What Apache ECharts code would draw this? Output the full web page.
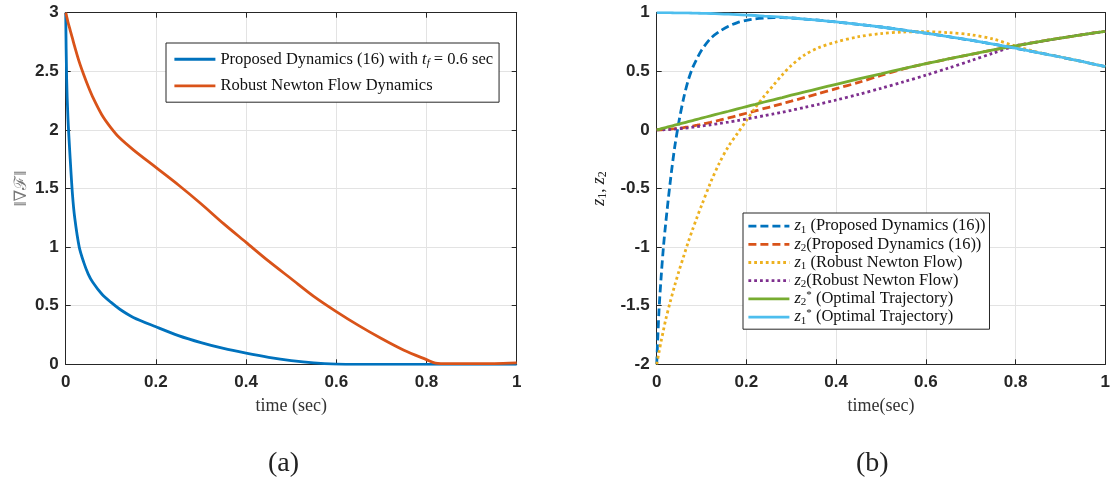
<!DOCTYPE html>
<html>
<head>
<meta charset="utf-8">
<script src="https://cdn.jsdelivr.net/npm/echarts@6/dist/echarts.min.js"></script>
<style>html,body{margin:0;padding:0;background:#fff;}#c{width:1113px;height:479px;}</style>
</head>
<body>
<div id="c"></div>
<script>
// ---- Data (a) ----
const tA = [0,0.002,0.005,0.01,0.015,0.02,0.03,0.04,0.05,0.06,0.08,0.1,0.12,0.15,0.2,0.25,0.3,0.35,0.4,0.45,0.5,0.55,0.6,0.65,0.7,0.75,0.8,0.82,0.85,0.9,0.95,1.0];
const gradProposed = [3.0,2.45,2.1,1.75,1.45,1.25,1.0,0.87,0.77,0.7,0.6,0.53,0.47,0.4,0.32,0.245,0.185,0.135,0.095,0.06,0.032,0.012,0.002,0,0,0,0,0,0,0,0,0];
const gradRobust = [3.0,2.97,2.92,2.85,2.78,2.71,2.58,2.47,2.37,2.28,2.13,2.02,1.93,1.83,1.68,1.53,1.37,1.2,1.04,0.88,0.73,0.58,0.45,0.33,0.22,0.12,0.04,0.01,0.005,0.005,0.006,0.012];
// ---- Data (b) ----
const tB = [0,0.005,0.01,0.015,0.02,0.03,0.04,0.05,0.06,0.07,0.08,0.09,0.1,0.12,0.14,0.16,0.18,0.2,0.22,0.24,0.26,0.28,0.3,0.33,0.36,0.4,0.45,0.5,0.55,0.6,0.65,0.7,0.75,0.8,0.85,0.9,0.95,1.0];
const z1Proposed = [-2,-1.55,-1.25,-1.0,-0.8,-0.45,-0.15,0.08,0.27,0.42,0.53,0.61,0.68,0.78,0.84,0.885,0.915,0.935,0.948,0.955,0.958,0.958,0.955,0.946,0.936,0.921,0.9,0.878,0.852,0.825,0.796,0.765,0.732,0.697,0.66,0.622,0.582,0.54];
const z2Proposed = [0,0,0.001,0.002,0.003,0.006,0.01,0.015,0.02,0.026,0.033,0.04,0.048,0.065,0.083,0.102,0.122,0.142,0.162,0.183,0.203,0.224,0.245,0.277,0.309,0.352,0.405,0.465,0.52,0.565,0.605,0.644,0.682,0.717,0.751,0.783,0.813,0.841];
const z1Robust = [-2,-1.9,-1.8,-1.71,-1.62,-1.47,-1.33,-1.2,-1.08,-0.96,-0.85,-0.745,-0.645,-0.45,-0.28,-0.14,-0.03,0.08,0.19,0.29,0.38,0.47,0.55,0.64,0.7,0.75,0.795,0.822,0.835,0.838,0.83,0.812,0.775,0.715,0.662,0.622,0.582,0.54];
const z2Robust = [0,0,0,0.001,0.002,0.004,0.007,0.01,0.014,0.018,0.023,0.028,0.033,0.044,0.055,0.067,0.08,0.093,0.107,0.121,0.136,0.151,0.167,0.192,0.218,0.255,0.303,0.355,0.41,0.467,0.527,0.59,0.655,0.717,0.751,0.783,0.813,0.841];
const z2Optimal = [0,0.005,0.01,0.015,0.02,0.03,0.04,0.05,0.06,0.07,0.08,0.09,0.1,0.12,0.14,0.159,0.179,0.199,0.218,0.238,0.257,0.276,0.296,0.324,0.352,0.389,0.435,0.479,0.523,0.565,0.605,0.644,0.682,0.717,0.751,0.783,0.813,0.841];
const z1Optimal = [1,1,1,1,1,1,0.999,0.999,0.998,0.998,0.997,0.996,0.995,0.993,0.99,0.987,0.984,0.98,0.976,0.971,0.966,0.961,0.955,0.946,0.936,0.921,0.9,0.878,0.852,0.825,0.796,0.765,0.732,0.697,0.66,0.622,0.582,0.54];

const pair = (t, v) => t.map((x, i) => [x, v[i]]);

const AX = '#262626';
const LW = 2.8;
const tickFont = {fontFamily: 'Liberation Sans, Arial, sans-serif', fontWeight: 'bold', fontSize: 17, color: AX};
const serif = 'Liberation Serif, DejaVu Serif, serif';

function xAxes(gi, name) {
  return [
    {type: 'value', gridIndex: gi, min: 0, max: 1, interval: 0.2, position: 'bottom',
     axisLine: {show: true, onZero: false, lineStyle: {color: AX, width: 1}},
     axisTick: {show: true, inside: true, length: 5, lineStyle: {color: AX}},
     axisLabel: Object.assign({margin: 10, formatter: v => String(+v.toFixed(1))}, tickFont),
     splitLine: {show: true, lineStyle: {color: '#e3e3e3', width: 1}},
     name: name, nameLocation: 'middle', nameGap: 33, nameMoveOverlap: false,
     nameTextStyle: {fontFamily: serif, fontSize: 18, color: '#333'}},
    {type: 'value', gridIndex: gi, min: 0, max: 1, interval: 0.2, position: 'top',
     axisLine: {show: true, onZero: false, lineStyle: {color: AX}},
     axisTick: {show: true, inside: true, length: 5, lineStyle: {color: AX}},
     axisLabel: {show: false}, splitLine: {show: false}}
  ];
}
function yAxes(gi, min, max, name, nameGap, nameStyle) {
  return [
    {type: 'value', gridIndex: gi, min: min, max: max, interval: 0.5, position: 'left',
     axisLine: {show: true, onZero: false, lineStyle: {color: AX}},
     axisTick: {show: true, inside: true, length: 5, lineStyle: {color: AX}},
     axisLabel: Object.assign({margin: 7}, tickFont),
     splitLine: {show: true, lineStyle: {color: '#e3e3e3', width: 1}},
     name: name, nameLocation: 'middle', nameGap: nameGap, nameRotate: 90, nameMoveOverlap: false,
     nameTextStyle: nameStyle},
    {type: 'value', gridIndex: gi, min: min, max: max, interval: 0.5, position: 'right',
     axisLine: {show: true, onZero: false, lineStyle: {color: AX}},
     axisTick: {show: true, inside: true, length: 5, lineStyle: {color: AX}},
     axisLabel: {show: false}, splitLine: {show: false}}
  ];
}

function line(name, xi, yi, data, color, type) {
  return {name: name, type: 'line', xAxisIndex: xi, yAxisIndex: yi, data: data,
    showSymbol: false, symbol: 'none', smooth: 0.3, animation: false,
    lineStyle: {color: color, width: LW, type: type || 'solid', cap: 'butt'},
    itemStyle: {color: color}};
}

const FS = 16.5;
const richBase = {
  it: {fontFamily: serif, fontStyle: 'italic', fontSize: FS, color: '#111'},
  sub: {fontFamily: serif, fontStyle: 'italic', fontSize: 11, color: '#111', verticalAlign: 'bottom', padding: [6, 0, 0, 0]},
  subn: {fontFamily: serif, fontSize: 11, color: '#111', verticalAlign: 'bottom', padding: [6, 0, 0, 0]},
  sup: {fontFamily: serif, fontSize: 11, color: '#111', verticalAlign: 'top', padding: [0, 0, 6, 0]}
};

const N1 = 'Proposed Dynamics (16) with tf = 0.6 sec';
const N2 = 'Robust Newton Flow Dynamics';
const M = ['z1 (Proposed Dynamics (16))', 'z2(Proposed Dynamics (16))', 'z1 (Robust Newton Flow)', 'z2(Robust Newton Flow)', 'z2* (Optimal Trajectory)', 'z1* (Optimal Trajectory)'];
const fmtMap = {};
fmtMap[N1] = 'Proposed Dynamics (16) with {it|t}{sub|f} = 0.6 sec';
fmtMap[N2] = 'Robust Newton Flow Dynamics';
fmtMap[M[0]] = '{it|z}{subn|1} (Proposed Dynamics (16))';
fmtMap[M[1]] = '{it|z}{subn|2}(Proposed Dynamics (16))';
fmtMap[M[2]] = '{it|z}{subn|1} (Robust Newton Flow)';
fmtMap[M[3]] = '{it|z}{subn|2}(Robust Newton Flow)';
fmtMap[M[4]] = '{it|z}{subn|2}{sup|*} (Optimal Trajectory)';
fmtMap[M[5]] = '{it|z}{subn|1}{sup|*} (Optimal Trajectory)';

const hideSym = {color: 'rgba(0,0,0,0)', borderWidth: 0, opacity: 0};
const legLine = {width: LW, type: 'inherit', cap: 'butt'};

const chart = echarts.init(document.getElementById('c'), null, {renderer: 'canvas'});
chart.setOption({
  animation: false,
  backgroundColor: '#fff',
  grid: [
    {left: 65.7, top: 12.7, width: 451, height: 351.6, show: false},
    {left: 656.7, top: 12.7, width: 451, height: 351.6, show: false}
  ],
  xAxis: [].concat(xAxes(0, 'time (sec)'), xAxes(1, 'time(sec)')),
  yAxis: [].concat(
    yAxes(0, 0, 3, '‖∇ℱ‖', 36, {fontFamily: serif, fontSize: 17, color: '#777'}),
    yAxes(1, -2, 1, '{it|z}{subn|1}, {it|z}{subn|2}', 48, {fontFamily: serif, fontSize: 17, color: '#222', rich: {
      it: {fontFamily: serif, fontStyle: 'italic', fontSize: 18, color: '#222'},
      subn: {fontFamily: serif, fontSize: 12, color: '#222', verticalAlign: 'bottom', padding: [6, 0, 0, 0]}}})
  ),
  legend: [
    {data: [N1, N2], orient: 'vertical', left: 166, top: 43,
     padding: [7, 6, 7, 7], itemGap: 8.2, itemWidth: 41, itemHeight: 14,
     borderColor: AX, borderWidth: 1, backgroundColor: '#fff', selectedMode: false,
     itemStyle: hideSym, lineStyle: legLine,
     textStyle: {fontFamily: serif, fontSize: FS, color: '#111', lineHeight: 18.5, rich: richBase},
     formatter: n => fmtMap[n]},
    {data: M, orient: 'vertical', left: 743, top: 213,
     padding: [4, 4, 3, 4], itemGap: 0, itemWidth: 41, itemHeight: 14,
     borderColor: AX, borderWidth: 1, backgroundColor: '#fff', selectedMode: false,
     itemStyle: hideSym, lineStyle: legLine,
     textStyle: {fontFamily: serif, fontSize: FS, color: '#111', lineHeight: 18.2, rich: richBase},
     formatter: n => fmtMap[n]}
  ],
  graphic: [
    {type: 'text', left: 268, top: 450, style: {text: '(a)', font: '28px ' + serif, fill: '#222'}},
    {type: 'text', left: 856, top: 450, style: {text: '(b)', font: '28px ' + serif, fill: '#222'}}
  ],
  series: [
    line(N1, 0, 0, pair(tA, gradProposed), '#0072BD'),
    line(N2, 0, 0, pair(tA, gradRobust), '#D95319'),
    line(M[0], 2, 2, pair(tB, z1Proposed), '#0072BD', [8, 4]),
    line(M[1], 2, 2, pair(tB, z2Proposed), '#D95319', [8, 4]),
    line(M[2], 2, 2, pair(tB, z1Robust), '#EDB120', [2.8, 3]),
    line(M[3], 2, 2, pair(tB, z2Robust), '#7E2F8E', [2.8, 3]),
    line(M[4], 2, 2, pair(tB, z2Optimal), '#77AC30'),
    line(M[5], 2, 2, pair(tB, z1Optimal), '#4DBEEE')
  ]
});
</script>
</body>
</html>
